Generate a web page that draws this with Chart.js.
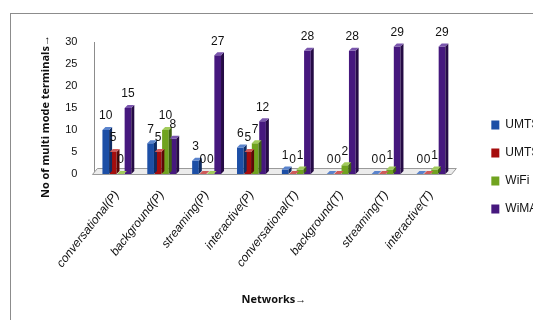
<!DOCTYPE html>
<html>
<head>
<meta charset="utf-8">
<script src="https://cdn.jsdelivr.net/npm/chart.js@4/dist/chart.umd.min.js"></script>
<style>
  html, body { margin: 0; padding: 0; background: #fff; overflow: hidden; }
  #frame {
    position: absolute; left: 10px; top: 13px;
    width: 580px; height: 340px;
    border: 1px solid #8c8c8c;
  }
  #wrap { position: absolute; left: 0; top: 0; width: 545px; height: 306px; }
</style>
</head>
<body>
<div id="frame"><div id="wrap"><canvas id="chart"></canvas></div></div>
<script>
// categories and series
const categories = [
    'conversational(P)', 'background(P)', 'streaming(P)', 'interactive(P)',
    'conversational(T)', 'background(T)', 'streaming(T)', 'interactive(T)'
];
const umts1 = [10, 7, 3, 6, 1, 0, 0, 0];
const umts2 = [5, 5, 0, 5, 0, 0, 0, 0];
const wifi  = [0, 10, 0, 7, 1, 2, 1, 1];
const wimax = [15, 8, 27, 12, 28, 28, 29, 29];
const yTicks = [0, 5, 10, 15, 20, 25, 30];

const seriesNames = ['UMTS1', 'UMTS2', 'WiFi', 'WiMAX'];
const seriesData = [umts1, umts2, wifi, wimax];
const colors = ['#1d4fa6', '#a50d0d', '#70a31f', '#46187e'];
const sideColors = ['#0f2c63', '#5e0606', '#3f6010', '#250b45'];
const topColors = ['#5a83cc', '#cf5a5a', '#a2cb5c', '#7a56ad'];

const DEPTH = 3;
const NARROW = '"Liberation Sans Narrow", "Liberation Sans", sans-serif';
const BOLD = '"Open Sans", "Liberation Sans", sans-serif';

// fake 3D: floor under the bars, side and top faces on each bar
const pseudo3d = {
    id: 'pseudo3d',
    afterUpdate(chart) {
        // legend sits a little higher than the centred default
        chart.legend.top -= 7;
        chart.legend.bottom -= 7;
    },
    beforeDatasetsDraw(chart) {
        const { ctx, chartArea: a } = chart;
        ctx.save();
        ctx.fillStyle = '#ececec';
        ctx.strokeStyle = '#9a9a9a';
        ctx.lineWidth = 1;
        ctx.beginPath();
        ctx.moveTo(a.left - 2, a.bottom + 0.5);
        ctx.lineTo(a.right - 2, a.bottom + 0.5);
        ctx.lineTo(a.right + 3, a.bottom - 5.5);
        ctx.lineTo(a.left + 3, a.bottom - 5.5);
        ctx.closePath();
        ctx.fill();
        ctx.stroke();
        ctx.restore();
    },
    afterDatasetsDraw(chart) {
        const { ctx } = chart;
        ctx.save();
        chart.data.datasets.forEach((ds, di) => {
            chart.getDatasetMeta(di).data.forEach((bar, i) => {
                const half = bar.width / 2;
                const r = bar.x + half;
                const l = bar.x - half;
                ctx.fillStyle = sideColors[di];
                ctx.beginPath();
                ctx.moveTo(r, bar.y);
                ctx.lineTo(r + DEPTH, bar.y - DEPTH);
                ctx.lineTo(r + DEPTH, bar.base - DEPTH);
                ctx.lineTo(r, bar.base);
                ctx.closePath();
                ctx.fill();
                ctx.fillStyle = topColors[di];
                ctx.beginPath();
                ctx.moveTo(l, bar.y);
                ctx.lineTo(l + DEPTH, bar.y - DEPTH);
                ctx.lineTo(r + DEPTH, bar.y - DEPTH);
                ctx.lineTo(r, bar.y);
                ctx.closePath();
                ctx.fill();

                // value label
                ctx.fillStyle = '#111';
                ctx.font = '12px ' + NARROW;
                ctx.textAlign = 'center';
                ctx.textBaseline = 'bottom';
                ctx.fillText(String(ds.data[i]), bar.x, bar.y - DEPTH - 5);
            });
        });
        ctx.restore();
    }
};

const datasets = seriesNames.map((name, i) => ({
    label: name,
    data: seriesData[i],
    backgroundColor: colors[i],
    borderWidth: 0,
    categoryPercentage: 0.66,
    barPercentage: 0.9
}));

new Chart(document.getElementById('chart'), {
    type: 'bar',
    data: { labels: categories, datasets: datasets },
    options: {
        responsive: true,
        maintainAspectRatio: false,
        animation: false,
        layout: { padding: { top: 28, left: 28, right: 0, bottom: 14 } },
        plugins: {
            legend: {
                position: 'right',
                labels: {
                    boxWidth: 8,
                    boxHeight: 9,
                    padding: 16,
                    color: '#111',
                    font: { size: 12, family: NARROW }
                }
            },
            tooltip: { enabled: false }
        },
        scales: {
            x: {
                grid: { display: false },
                border: { display: false },
                ticks: {
                    maxRotation: 52,
                    minRotation: 52,
                    padding: 6,
                    color: '#111',
                    font: { size: 12, style: 'italic', family: '"Liberation Sans", sans-serif' }
                },
                title: {
                    display: true,
                    text: 'Networks→',
                    color: '#111',
                    padding: { top: 26, bottom: 0 },
                    font: { size: 11, weight: 'bold', family: BOLD }
                }
            },
            y: {
                min: 0,
                max: 30,
                afterBuildTicks: scale => { scale.ticks = yTicks.map(v => ({ value: v })); },
                grid: { display: false, drawOnChartArea: false, drawTicks: true, tickLength: 4, color: '#8c8c8c' },
                border: { display: true, color: '#8c8c8c' },
                ticks: {
                    padding: 13,
                    color: '#111',
                    font: { size: 11, family: NARROW }
                },
                title: {
                    display: true,
                    text: 'No of multi mode terminals→      ',
                    color: '#111',
                    padding: { top: 0, bottom: 0 },
                    font: { size: 11, weight: 'bold', family: BOLD }
                }
            },
            gap: {
                position: 'right',
                display: true,
                grid: { display: false },
                border: { display: false },
                ticks: { display: false },
                afterFit: scale => { scale.width = 22; }
            }
        }
    },
    plugins: [pseudo3d]
});
</script>
</body>
</html>
